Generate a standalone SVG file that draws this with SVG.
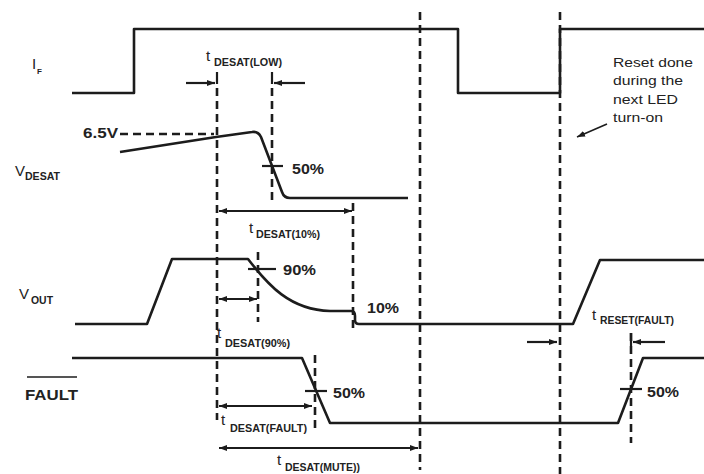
<svg xmlns="http://www.w3.org/2000/svg" width="704" height="474" viewBox="0 0 704 474">
<style>
.sig{fill:none;stroke:#1c1c1c;stroke-width:2.6;stroke-linejoin:round}
.dash{fill:none;stroke:#1c1c1c;stroke-width:2.6;stroke-dasharray:8 5}
.tick{fill:none;stroke:#1c1c1c;stroke-width:2.2}
.arr{fill:none;stroke:#1c1c1c;stroke-width:2.2;marker-end:url(#ah)}
.arr2{fill:none;stroke:#1c1c1c;stroke-width:2.2;marker-start:url(#ah);marker-end:url(#ah)}
text{font-family:"Liberation Sans",Arial,sans-serif;fill:#222}
.nm{font-size:15px}
.sub{font-size:10px;font-weight:bold}
.t{font-size:15px}
.pct{font-size:15px;font-weight:bold}
.note{font-size:13.5px}
</style>
<defs>
<marker id="ah" viewBox="0 0 8 6" refX="8" refY="3" markerWidth="8" markerHeight="6" markerUnits="userSpaceOnUse" orient="auto-start-reverse">
<path d="M0,0 L8,3 L0,6 z" fill="#1c1c1c"/>
</marker>
</defs>
<rect width="704" height="474" fill="#fff"/>

<g id="guides">
<path class="dash" d="M217,88 V420"/>
<path class="dash" d="M272,88 V200"/>
<path class="dash" d="M353,203 V333"/>
<path class="dash" d="M258,252 V322"/>
<path class="dash" d="M420,12 V470"/>
<path class="dash" d="M560,12 V474"/>
<path class="dash" d="M631,333 V443"/>
<path class="dash" d="M315,355 V428"/>
<path class="dash" d="M120,134 H214"/>
</g>

<g id="signal-IF">
<path class="sig" d="M72,93 H134 V29 H458 V93 H560 V29 H704"/>
<text class="nm" x="32" y="69">I</text><text class="sub" x="37" y="74" style="font-size:8px">F</text>
</g>

<g id="signal-VDESAT">
<path class="sig" d="M120,152 L216,137 L252,132 Q258,131 261,137 L282,192 Q284,198 290,198 H408"/>
<text class="nm" x="15" y="176">V</text><text class="sub" x="25" y="180" textLength="35" lengthAdjust="spacingAndGlyphs">DESAT</text>
<text class="pct" x="83" y="138" textLength="35" lengthAdjust="spacingAndGlyphs">6.5V</text>
<path class="tick" d="M262,166 H283"/>
<text class="pct" x="292" y="174" textLength="32" lengthAdjust="spacingAndGlyphs">50%</text>
</g>

<g id="signal-VOUT">
<path class="sig" d="M75,324 H147 L172,259 H248 C268,285 290,310 330,311 H351 Q355,311 355,316 V320 Q355,324 359,324 H573 L600,260 H704"/>
<text class="nm" x="19" y="299">V</text><text class="sub" x="31" y="304" textLength="22" lengthAdjust="spacingAndGlyphs">OUT</text>
<path class="tick" d="M248,269 H276"/>
<text class="pct" x="283" y="275" textLength="33" lengthAdjust="spacingAndGlyphs">90%</text>
<text class="pct" x="367" y="313" textLength="32" lengthAdjust="spacingAndGlyphs">10%</text>
</g>

<g id="signal-FAULT">
<path class="sig" d="M72,358 H302 L330,423 H618 L643,358 H704"/>
<text class="pct" x="25" y="400" textLength="53" lengthAdjust="spacingAndGlyphs">FAULT</text>
<path class="tick" d="M27,377 H77" style="stroke-width:1.6"/>
<path class="tick" d="M305,391 H327"/>
<text class="pct" x="333" y="398" textLength="32" lengthAdjust="spacingAndGlyphs">50%</text>
<path class="tick" d="M620,389 H642"/>
<text class="pct" x="647" y="397" textLength="32" lengthAdjust="spacingAndGlyphs">50%</text>
</g>

<g id="connectors">
<path class="tick" d="M217,72 V84"/>
<path class="tick" d="M272,72 V84"/>
<path class="arr" d="M186,83 H215"/>
<path class="arr" d="M305,83 H274"/>
<path class="arr2" d="M219,211 H352"/>
<path class="arr2" d="M219,299 H257"/>
<path class="arr2" d="M219,406 H312"/>
<path class="arr2" d="M219,448 H418"/>
<path class="arr" d="M527,342 H557"/>
<path class="tick" d="M631,333 V346"/>
<path class="arr" d="M665,342 H633"/>
<path class="arr" d="M607,124 L577,137" style="stroke-width:1.6"/>
</g>

<g id="timing-labels">
<text class="t" x="206" y="61">t</text><text class="sub" x="214" y="66" textLength="68" lengthAdjust="spacingAndGlyphs">DESAT(LOW)</text>
<text class="t" x="249" y="233">t</text><text class="sub" x="256" y="238" textLength="64" lengthAdjust="spacingAndGlyphs">DESAT(10%)</text>
<text class="t" x="217" y="338">t</text><text class="sub" x="225" y="347" textLength="65" lengthAdjust="spacingAndGlyphs">DESAT(90%)</text>
<text class="t" x="221" y="425">t</text><text class="sub" x="230" y="432" textLength="77" lengthAdjust="spacingAndGlyphs">DESAT(FAULT)</text>
<text class="t" x="277" y="465">t</text><text class="sub" x="285" y="471" textLength="75" lengthAdjust="spacingAndGlyphs">DESAT(MUTE))</text>
<text class="t" x="592" y="320">t</text><text class="sub" x="600" y="324" textLength="74" lengthAdjust="spacingAndGlyphs">RESET(FAULT)</text>
</g>

<g id="note">
<text class="note" x="613" y="67" textLength="80" lengthAdjust="spacingAndGlyphs">Reset done</text>
<text class="note" x="613" y="85" textLength="70" lengthAdjust="spacingAndGlyphs">during the</text>
<text class="note" x="613" y="104" textLength="65" lengthAdjust="spacingAndGlyphs">next LED</text>
<text class="note" x="613" y="122" textLength="50" lengthAdjust="spacingAndGlyphs">turn-on</text>
</g>
</svg>
